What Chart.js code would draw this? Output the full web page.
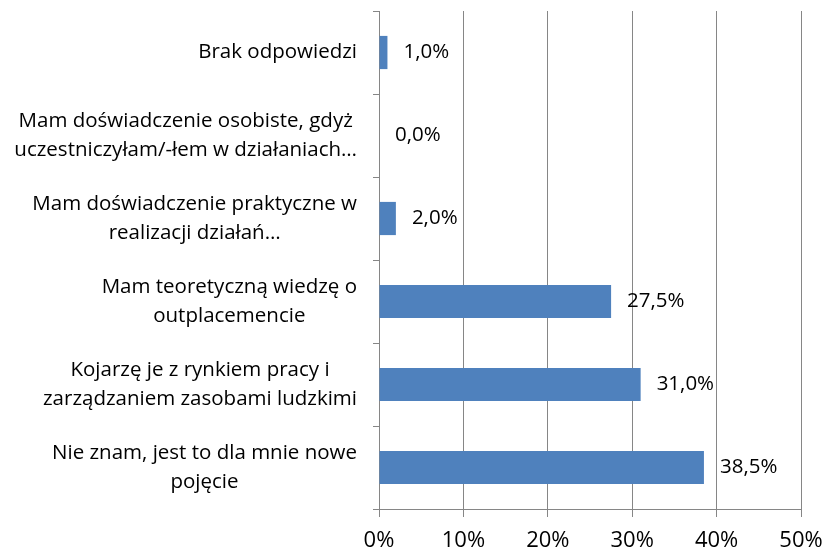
<!DOCTYPE html>
<html>
<head>
<meta charset="utf-8">
<script src="https://cdn.jsdelivr.net/npm/chart.js@4"></script>
<style>html,body{margin:0;padding:0;background:#fff;}canvas{display:block;}</style>
</head>
<body>
<canvas id="c" width="824" height="555"></canvas>
<script>
const categories = [
  ["Brak odpowiedzi"],
  ["Mam doświadczenie osobiste, gdyż", "uczestniczyłam/-łem w działaniach…"],
  ["Mam doświadczenie praktyczne w", "realizacji działań…"],
  ["Mam teoretyczną wiedzę o", "outplacemencie"],
  ["Kojarzę je z rynkiem pracy i", "zarządzaniem zasobami ludzkimi"],
  ["Nie znam, jest to dla mnie nowe", "pojęcie"]
];
const values = [1.0, 0.0, 2.0, 27.5, 31.0, 38.5];
const xTicks = [0, 10, 20, 30, 40, 50];

const FONT = "'Open Sans'";
const GRID = "#868686";

const labelPlugin = {
  id: "labels",
  afterDatasetsDraw(chart) {
    const ctx = chart.ctx;
    const meta = chart.getDatasetMeta(0);
    ctx.save();
    ctx.fillStyle = "#000";
    ctx.font = "20.5px " + FONT;
    ctx.textBaseline = "middle";
    ctx.textAlign = "left";
    meta.data.forEach((bar, i) => {
      const v = values[i];
      ctx.fillText(v.toFixed(1).replace(".", ",") + "%", bar.x + 16, bar.y);
    });
    // category labels: block right-aligned, lines centered
    const ys = chart.scales.y;
    const rightEdge = chart.chartArea.left - 22;
    const lh = 29;
    categories.forEach((lines, i) => {
      const cy = ys.getPixelForValue(i);
      const w = Math.max(...lines.map(l => ctx.measureText(l).width));
      const cx = rightEdge - w / 2;
      ctx.textAlign = "center";
      lines.forEach((l, k) => {
        const y = cy + (k - (lines.length - 1) / 2) * lh;
        ctx.fillText(l, cx, y);
      });
    });
    ctx.restore();
  }
};

new Chart(document.getElementById("c"), {
  type: "bar",
  data: {
    labels: categories.map(c => c.join(" ")),
    datasets: [{
      data: values,
      backgroundColor: "#4F81BD",
      borderWidth: 0,
      categoryPercentage: 1,
      barPercentage: 0.4
    }]
  },
  options: {
    indexAxis: "y",
    responsive: false,
    animation: false,
    events: [],
    layout: { padding: { top: 11, right: 23, left: 0, bottom: 0 } },
    plugins: { legend: { display: false }, tooltip: { enabled: false } },
    scales: {
      x: {
        min: 0, max: 50,
        afterBuildTicks(s) { s.ticks = xTicks.map(v => ({ value: v })); },
        afterFit(s) { s.height = 555 - 509; s.paddingLeft = 0; s.paddingRight = 0; },
        grid: { color: GRID, lineWidth: 1, tickLength: 8, drawTicks: true },
        border: { display: true, color: GRID, width: 1 },
        ticks: {
          callback: v => v + "%",
          color: "#000",
          font: { family: FONT, size: 22 },
          padding: 11
        }
      },
      y: {
        afterFit(s) { s.width = 379; s.paddingTop = 0; s.paddingBottom = 0; },
        grid: { display: true, drawOnChartArea: false, color: GRID, tickLength: 6, offset: true },
        border: { display: true, color: GRID, width: 1 },
        ticks: { display: false }
      }
    }
  },
  plugins: [labelPlugin]
});
</script>
</body>
</html>
